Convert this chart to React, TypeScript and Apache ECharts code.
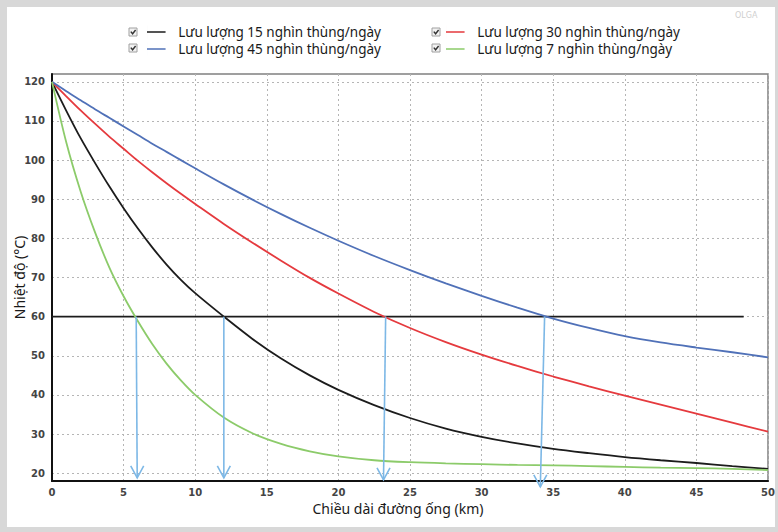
import { useEffect, useRef } from 'react';
import * as echarts from 'echarts';

// distance along the pipeline (km)
const km = [0, 1, 2, 3, 4, 5, 6, 7, 8, 9, 10, 12, 14, 16, 18, 20, 22.5, 25, 27.5, 30, 32.5, 35, 37.5, 40, 42.5, 45, 47.5, 50];

// temperature (°C) for each flow rate
const flow15 = [120, 112.6, 105.6, 99.3, 93.3, 87.7, 82.5, 77.7, 73.3, 69.4, 66, 60, 54.3, 49.3, 45, 41.3, 37.4, 34.1, 31.4, 29.3, 27.6, 26.2, 25.1, 24.1, 23.3, 22.6, 21.8, 21.1];
const flow30 = [120, 116.3, 112.7, 109.3, 106, 102.9, 99.8, 96.9, 94.1, 91.4, 88.8, 83.7, 78.9, 74.3, 69.9, 65.9, 61.2, 57.1, 53.5, 50.3, 47.4, 44.7, 42.2, 39.8, 37.5, 35.2, 32.9, 30.6];
const flow45 = [120, 117.6, 115.3, 113, 110.8, 108.6, 106.4, 104.2, 102.1, 100, 97.9, 93.8, 89.9, 86.2, 82.7, 79.4, 75.5, 71.9, 68.5, 65.3, 62.3, 59.5, 57.1, 55, 53.4, 52.1, 50.9, 49.6];
const flow7 = [120, 104.5, 92, 81.6, 72.6, 65.2, 58.8, 53, 48, 43.7, 40, 34.2, 30.2, 27.5, 25.6, 24.3, 23.3, 22.8, 22.5, 22.3, 22.1, 22, 21.8, 21.6, 21.4, 21.3, 21.1, 20.8];

const name15 = 'Lưu lượng 15 nghìn thùng/ngày';
const name30 = 'Lưu lượng 30 nghìn thùng/ngày';
const name45 = 'Lưu lượng 45 nghìn thùng/ngày';
const name7 = 'Lưu lượng 7 nghìn thùng/ngày';

// 60 °C reference line
const thresholdX = [0, 48.3];
const thresholdValue = 60;

// arrows from the 60 °C crossings down to the axis
const arrowTopX = [5.88, 12.0, 23.3, 34.4];
const arrowBottomX = [5.95, 12.0, 23.15, 34.1];
const arrowBottomY = [18.8, 18.8, 18.3, 16.5];

const yTicks = [20, 30, 40, 50, 60, 70, 80, 90, 100, 110, 120];

const FONT = 'Noto Sans';
const LEGEND_LINE = 'path://M0 6.2H20V7.8H0Z M0 0H0.01V14H0Z';

function pairs(xs: number[], ys: number[]) {
  return xs.map((x, i) => [x, ys[i]]);
}

export default function App() {
  const ref = useRef<HTMLDivElement>(null);
  useEffect(() => {
    if (!ref.current) return;
    const chart = echarts.init(ref.current, undefined, { renderer: 'svg' });
    const lineSeries = (name: string, data: number[], color: string) => ({
      name,
      type: 'line',
      data: pairs(km, data),
      symbol: 'none',
      smooth: 0.3,
      lineStyle: { color, width: 1.8 },
      itemStyle: { color },
      z: 3,
    });
    const checkbox = (x: number, y: number) => ({
      type: 'group',
      children: [
        { type: 'rect', shape: { x, y, width: 8, height: 8 }, style: { fill: '#f2f2f2', stroke: '#a0a0a0', lineWidth: 1 } },
        { type: 'polyline', shape: { points: [[x + 1.8, y + 3.6], [x + 3.6, y + 5.8], [x + 6.6, y + 2]] }, style: { stroke: '#333', lineWidth: 1.4, fill: null } },
      ],
    });
    const arrowData = arrowTopX.map((x, i) => [x, thresholdValue, arrowBottomX[i], arrowBottomY[i]]);
    const legendCommon = {
      orient: 'vertical',
      top: 18,
      padding: 0,
      itemGap: 3,
      itemWidth: 20,
      itemHeight: 13,
      icon: LEGEND_LINE,
      selectedMode: false,
      textStyle: { fontFamily: FONT, fontSize: 13.5, color: '#1a1a1a', lineHeight: 13, padding: [0, 0, 0, 7] },
    };
    chart.setOption({
      animation: false,
      backgroundColor: '#ffffff',
      legend: [
        { ...legendCommon, left: 140, data: [name15, name45] },
        { ...legendCommon, left: 439, data: [name30, name7] },
      ],
      graphic: [
        checkbox(122, 21),
        checkbox(122, 37),
        checkbox(425, 21),
        checkbox(425, 37),
        { type: 'text', left: 728, top: 4, style: { text: 'OLGA', fill: '#cfcfcf', fontSize: 8, fontFamily: 'DejaVu Sans' } },
      ],
      grid: {
        left: 45,
        right: 7,
        top: 67,
        bottom: 46,
        outerBoundsMode: 'none',
        containLabel: false,
        show: true,
        borderColor: '#808080',
        borderWidth: 1.5,
        backgroundColor: '#ffffff',
      },
      xAxis: {
        type: 'value',
        min: 0,
        max: 50,
        interval: 5,
        name: 'Chiều dài đường ống (km)',
        nameLocation: 'middle',
        nameGap: 20,
        nameMoveOverlap: false,
        nameTextStyle: { fontFamily: FONT, fontSize: 14, color: '#1a1a1a', lineHeight: 15, padding: [0, 24, 0, 0] },
        axisLine: { show: true, lineStyle: { color: '#111', width: 2 } },
        axisTick: { show: false },
        axisLabel: { fontFamily: 'DejaVu Sans', fontWeight: 'bold', fontSize: 10, color: '#444', margin: 6 },
        splitLine: { show: true, lineStyle: { color: '#b5b5b5', type: [2, 3], width: 1 } },
      },
      yAxis: {
        type: 'value',
        min: 18,
        max: 122,
        name: 'Nhiệt độ (°C)',
        nameLocation: 'middle',
        nameGap: 26,
        nameMoveOverlap: false,
        nameTextStyle: { fontFamily: FONT, fontSize: 14, color: '#1a1a1a' },
        axisLine: { show: true, lineStyle: { color: '#111', width: 2 } },
        axisTick: { show: false, customValues: yTicks },
        axisLabel: { customValues: yTicks, fontFamily: 'DejaVu Sans', fontWeight: 'bold', fontSize: 10, color: '#444', margin: 7 },
        splitLine: { show: true, lineStyle: { color: '#b5b5b5', type: [2, 3], width: 1 } },
      },
      series: [
        lineSeries(name15, flow15, '#1c1c1c'),
        lineSeries(name30, flow30, '#e53a3e'),
        lineSeries(name45, flow45, '#5071b8'),
        lineSeries(name7, flow7, '#8ccb6a'),
        {
          name: 'threshold',
          type: 'line',
          data: thresholdX.map((x) => [x, thresholdValue]),
          symbol: 'none',
          lineStyle: { color: '#1c1c1c', width: 1.6 },
          z: 2,
        },
        {
          name: 'arrows',
          type: 'custom',
          data: arrowData,
          encode: { x: [0, 2], y: [1, 3] },
          clip: false,
          z: 4,
          renderItem: (_params: any, api: any) => {
            const p0 = api.coord([api.value(0), api.value(1)]);
            const p1 = api.coord([api.value(2), api.value(3)]);
            const stroke = '#7db8e6';
            return {
              type: 'group',
              children: [
                { type: 'line', shape: { x1: p0[0], y1: p0[1], x2: p1[0], y2: p1[1] }, style: { stroke, lineWidth: 1.6 } },
                {
                  type: 'polyline',
                  shape: { points: [[p1[0] - 6.5, p1[1] - 12], [p1[0], p1[1]], [p1[0] + 6.5, p1[1] - 12]] },
                  style: { stroke, lineWidth: 1.6, fill: null },
                },
              ],
            };
          },
        },
      ],
    });
    return () => chart.dispose();
  }, []);
  return (
    <div style={{ position: 'fixed', left: 0, top: 0, width: 778, height: 532, background: '#d8d8d8' }}>
      <div ref={ref} style={{ position: 'absolute', left: 7, top: 7, width: 768, height: 520 }} />
    </div>
  );
}
